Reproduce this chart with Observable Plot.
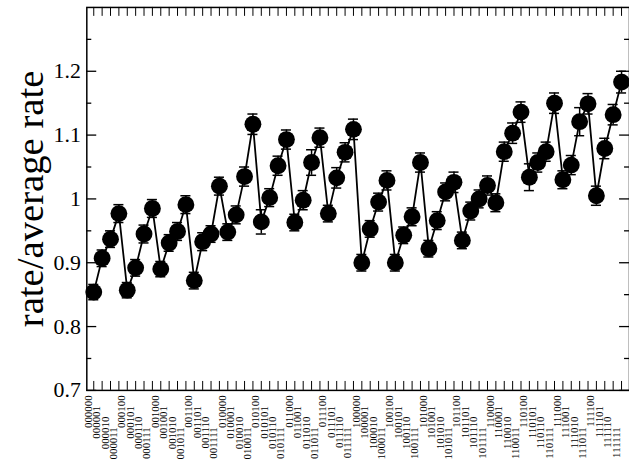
<!DOCTYPE html>
<html><head><meta charset="utf-8">
<script src="https://cdn.jsdelivr.net/npm/d3@7"></script>
<script src="https://cdn.jsdelivr.net/npm/@observablehq/plot@0.6"></script>
<style>html,body{margin:0;padding:0;overflow:hidden;background:#fff}</style>
</head><body><div id="chart"></div>
<script>
const categories = [
"000000","000001","000010","000011","000100","000101","000110","000111",
"001000","001001","001010","001011","001100","001101","001110","001111",
"010000","010001","010010","010011","010100","010101","010110","010111",
"011000","011001","011010","011011","011100","011101","011110","011111",
"100000","100001","100010","100011","100100","100101","100110","100111",
"101000","101001","101010","101011","101100","101101","101110","101111",
"110000","110001","110010","110011","110100","110101","110110","110111",
"111000","111001","111010","111011","111100","111101","111110","111111"];
const rates = [
0.854,0.907,0.937,0.977,0.857,0.892,0.945,0.985,
0.890,0.931,0.949,0.991,0.872,0.933,0.945,1.020,
0.948,0.975,1.035,1.117,0.964,1.002,1.052,1.093,
0.963,0.998,1.057,1.096,0.977,1.033,1.073,1.109,
0.900,0.953,0.995,1.029,0.900,0.943,0.972,1.057,
0.922,0.966,1.011,1.026,0.935,0.981,1.000,1.021,
0.994,1.074,1.103,1.136,1.034,1.057,1.074,1.150,
1.030,1.053,1.121,1.149,1.005,1.079,1.132,1.183];
const errors = [
0.012,0.013,0.013,0.014,0.012,0.013,0.014,0.014,
0.012,0.013,0.014,0.014,0.013,0.014,0.013,0.014,
0.013,0.014,0.015,0.016,0.019,0.014,0.015,0.015,
0.013,0.015,0.020,0.015,0.013,0.016,0.015,0.016,
0.013,0.013,0.014,0.015,0.013,0.013,0.014,0.015,
0.013,0.014,0.014,0.016,0.013,0.014,0.014,0.015,
0.014,0.015,0.016,0.016,0.021,0.015,0.015,0.016,
0.014,0.015,0.022,0.016,0.015,0.016,0.016,0.017];
const yTicks = [0.7, 0.8, 0.9, 1.0, 1.1, 1.2];
const yTickLabels = ["0.7", "0.8", "0.9", "1", "1.1", "1.2"];
const yMinorTicks = [0.75, 0.85, 0.95, 1.05, 1.15, 1.25];
const yLabel = "rate/average rate";

const data = categories.map((c, i) => ({i, c, v: rates[i], e: errors[i]}));
const W = 634, H = 473, mL = 87, mR = 0, mT = 7, mB = 80;
const plotW = W - mL - mR, plotH = H - mT - mB;
const serif = "'Liberation Serif', 'Times New Roman', Times, serif";

const labelMarks = [0, 1, 2, 3].map(k =>
  Plot.text(data.filter(d => d.i % 4 === k), {
    x: "i", text: "c", frameAnchor: "bottom", rotate: -90, textAnchor: "end",
    dy: 5 + k * 10.7, dx: -2, fontSize: 11
  })
);

const chart = Plot.plot({
  width: W, height: H,
  marginLeft: mL, marginRight: mR, marginTop: mT, marginBottom: mB,
  style: {fontFamily: serif, color: "black", background: "white", overflow: "visible"},
  x: {domain: [-0.829, 63.95], axis: null},
  y: {domain: [0.7, 1.3], axis: null},
  marks: [
    Plot.frame({stroke: "black", strokeWidth: 1.5}),
    Plot.ruleX(data, {x: "i", insetTop: plotH - 9, stroke: "black"}),
    Plot.ruleX(data, {x: "i", insetBottom: plotH - 9, stroke: "black"}),
    Plot.ruleY(yTicks, {insetRight: plotW - 10, stroke: "black", strokeWidth: 1.3}),
    Plot.ruleY(yMinorTicks, {insetRight: plotW - 5, stroke: "black", strokeWidth: 1.3}),
    Plot.ruleY(yTicks, {insetLeft: plotW - 10, stroke: "black", strokeWidth: 1.3}),
    Plot.ruleY(yMinorTicks, {insetLeft: plotW - 5, stroke: "black", strokeWidth: 1.3}),
    Plot.axisY({ticks: yTicks, tickFormat: (d, i) => yTickLabels[i], tickSize: 0, tickPadding: 6, fontSize: 22, label: null}),
    Plot.text([yLabel], {text: d => d, frameAnchor: "left", textAnchor: "middle", rotate: -90, dx: -57, fontSize: 39}),
    ...labelMarks,
    Plot.line(data, {x: "i", y: "v", stroke: "black", strokeWidth: 1.8}),
    Plot.ruleX(data, {x: "i", y1: d => d.v - d.e, y2: d => d.v + d.e, stroke: "black", strokeWidth: 1.5}),
    Plot.ruleY(data, {x1: d => d.i - 0.6, x2: d => d.i + 0.6, y: d => d.v + d.e, stroke: "black", strokeWidth: 1.5}),
    Plot.ruleY(data, {x1: d => d.i - 0.6, x2: d => d.i + 0.6, y: d => d.v - d.e, stroke: "black", strokeWidth: 1.5}),
    Plot.dot(data, {x: "i", y: "v", r: 8.5, fill: "black", stroke: "none"})
  ]
});
document.getElementById("chart").appendChild(chart);
</script>
</body></html>
